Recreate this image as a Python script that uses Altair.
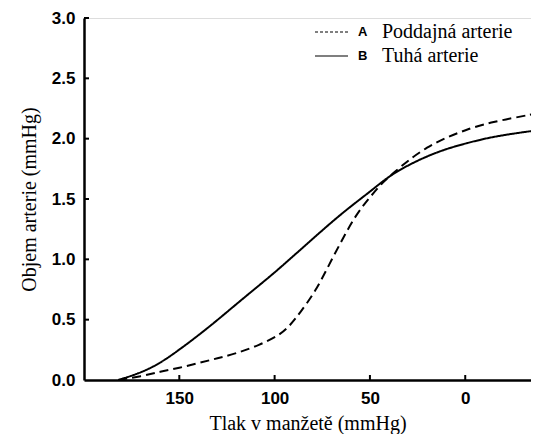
import altair as alt
import pandas as pd

# --- data ---
pressure_A = [182, 170, 160, 150, 140, 130, 120, 108, 97.5, 92, 87, 78.3, 71.3, 64.3, 57.3,
              50.3, 43.3, 38, 30, 20, 10, 0, -11, -38]
volume_A   = [0.0, 0.03, 0.07, 0.10, 0.14, 0.18, 0.22, 0.29, 0.37, 0.45, 0.55, 0.74, 0.96, 1.17, 1.37,
              1.51, 1.64, 1.71, 1.82, 1.93, 2.01, 2.07, 2.13, 2.21]
pressure_B = [182, 170, 160, 150, 135, 120, 110, 100, 90, 80, 70, 60, 50, 40, 30, 20, 10, 0, -15, -38]
volume_B   = [0.0, 0.06, 0.14, 0.25, 0.43, 0.63, 0.76, 0.89, 1.03, 1.17, 1.31, 1.44, 1.56, 1.69,
              1.78, 1.855, 1.915, 1.96, 2.02, 2.07]
x_ticks = [150, 100, 50, 0]
y_ticks = [0.0, 0.5, 1.0, 1.5, 2.0, 2.5, 3.0]
legend_letters = ["A", "B"]
legend_names = ["Poddajná arterie", "Tuhá arterie"]

W, H = 447, 362
X_DOM = [200, -34.5]

df = pd.concat([
    pd.DataFrame({"p": pressure_A, "v": volume_A, "s": "A"}),
    pd.DataFrame({"p": pressure_B, "v": volume_B, "s": "B"}),
])

xs = alt.Scale(domain=X_DOM, nice=False, zero=False)
ys = alt.Scale(domain=[0, 3], nice=False)

sans = "Liberation Sans"
serif = "Liberation Serif"

base_x = alt.X("p:Q", scale=xs, axis=alt.Axis(
    values=x_ticks, ticks=False, grid=False, domainWidth=2.5, domainColor="black",
    labelFont=sans, labelFontWeight="bold", labelFontSize=17, labelColor="black",
    labelPadding=10, title="Tlak v manžetě (mmHg)", titleFont=serif,
    titleFontWeight="normal", titleFontSize=20, titleColor="black", titlePadding=7))
base_y = alt.Y("v:Q", scale=ys, axis=alt.Axis(
    values=y_ticks, format=".1f", ticks=False, grid=False, domainWidth=2.5,
    domainColor="black", labelFont=sans, labelFontWeight="bold", labelFontSize=17,
    labelColor="black", labelPadding=9, title="Objem arterie (mmHg)",
    titleFont=serif, titleFontWeight="normal", titleFontSize=20,
    titleColor="black", titlePadding=12))

lines = alt.Chart(df).mark_line(color="black", strokeWidth=2, interpolate="basis",
                                clip=True).encode(
    x=base_x, y=base_y,
    strokeDash=alt.StrokeDash("s:N", scale=alt.Scale(domain=["A", "B"],
                                                     range=[[9, 5], [1, 0]]), legend=None),
    detail="s:N")

xt = alt.Chart(pd.DataFrame({"t": x_ticks})).mark_rule(color="black", strokeWidth=2).encode(
    x=alt.X("t:Q", scale=xs), y=alt.value(H), y2=alt.value(H - 5))
yt = alt.Chart(pd.DataFrame({"t": y_ticks[1:]})).mark_rule(color="black", strokeWidth=2).encode(
    y=alt.Y("t:Q", scale=ys), x=alt.value(0), x2=alt.value(5))

leg_rows = [14, 38]
leg = []
for i, (letter, name) in enumerate(zip(legend_letters, legend_names)):
    ldf = pd.DataFrame({"l": [letter], "n": [name]})
    leg.append(alt.Chart(ldf).mark_rule(color="black", strokeWidth=1.2,
                                        strokeDash=[3, 2] if i == 0 else [1, 0]).encode(
        x=alt.value(231), x2=alt.value(264), y=alt.value(leg_rows[i])))
    leg.append(alt.Chart(ldf).mark_text(font=sans, fontWeight="bold", fontSize=13,
                                        align="left", baseline="middle", color="black").encode(
        x=alt.value(274), y=alt.value(leg_rows[i]), text="l:N"))
    leg.append(alt.Chart(ldf).mark_text(font=serif, fontSize=20, align="left",
                                        baseline="middle", color="black").encode(
        x=alt.value(298), y=alt.value(leg_rows[i]), text="n:N"))

chart = alt.layer(lines, xt, yt, *leg).properties(
    width=W, height=H,
    autosize=alt.AutoSizeParams(type="none"),
    padding={"left": 76, "top": 10, "right": 0, "bottom": 54},
).configure_view(stroke=None).configure(background="white")

chart.save("out.html", embed_options={"renderer": "svg", "actions": False})
